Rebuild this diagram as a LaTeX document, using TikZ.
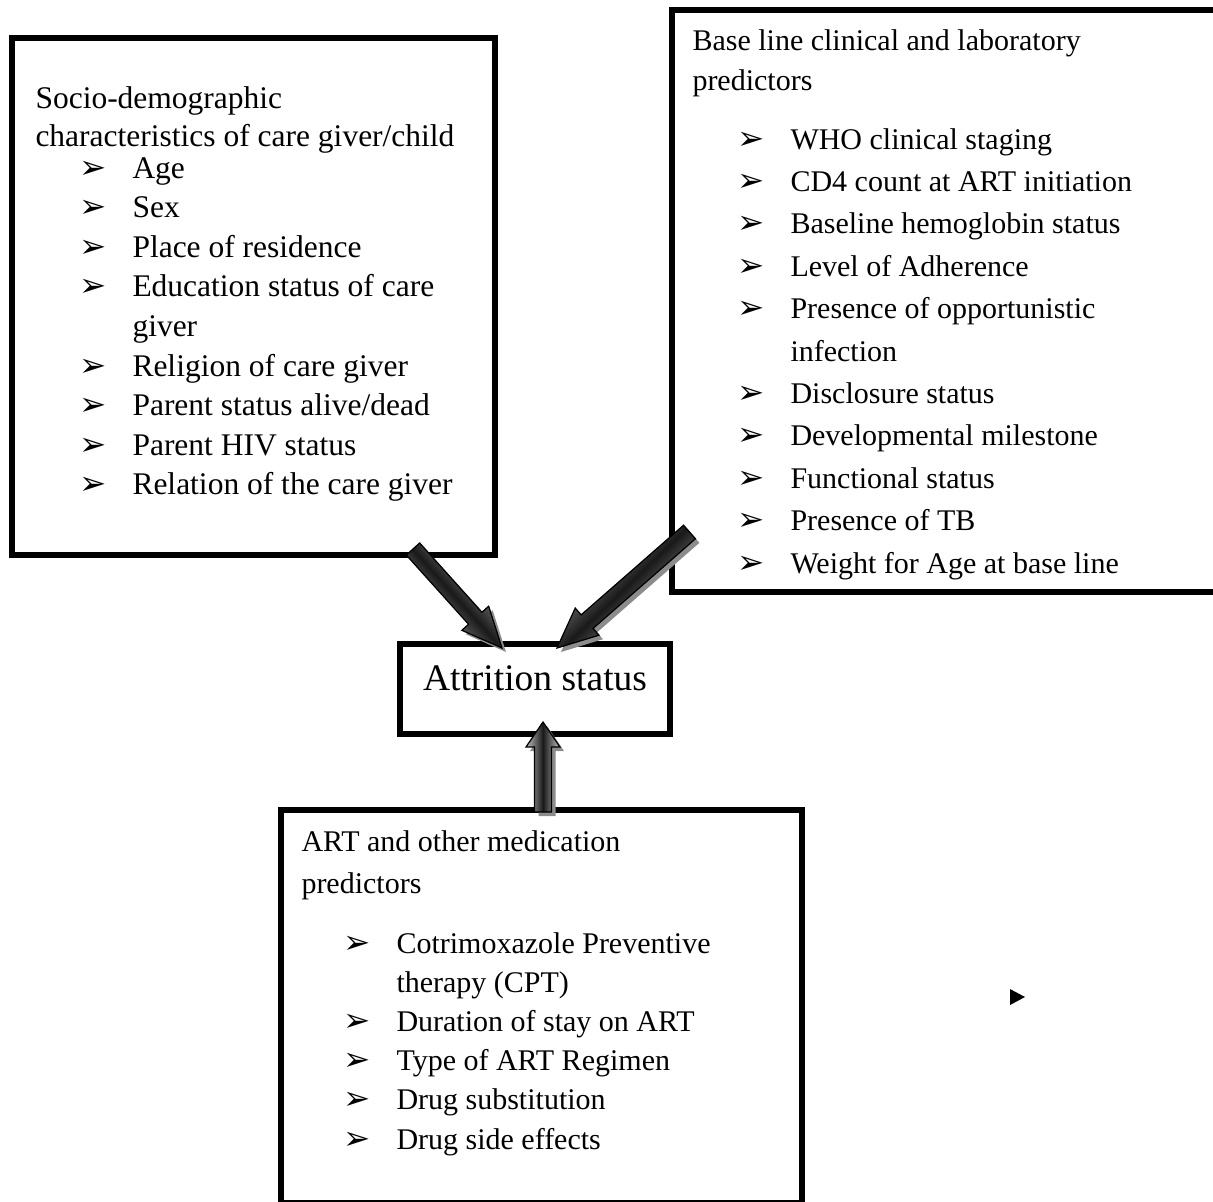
\documentclass[tikz,border=0pt]{standalone}
\usepackage{fontspec}
\setmainfont{Liberation Serif}
\newfontfamily\dingfont{DejaVu Sans}
\usetikzlibrary{calc,shadows}

\newcommand{\arrbullet}{\char"27A2}

% fat shaded arrow: tail, tip, shaft half width, head half width, head length, angle
\newcommand{\fatarrow}[6]{%
  \coordinate (hb) at ($(#2)!#5!(#1)$);
  \draw[thickarrow, shading angle=#6]
    ($(#1)!#3!90:(#2)$) -- ($(hb)!#3!90:(#2)$) -- ($(hb)!#4!90:(#2)$)
    -- (#2) -- ($(hb)!#4!-90:(#2)$) -- ($(hb)!#3!-90:(#2)$)
    -- ($(#1)!#3!-90:(#2)$) -- cycle;
}

\begin{document}
\begin{tikzpicture}[x=0.4pt, y=-0.4pt,
    panel/.style={draw, line width=2.4pt, inner sep=0pt, outer sep=0pt},
    txt/.style={anchor=base west, inner sep=0pt, font=\fontsize{12}{14}\selectfont},
    bigtxt/.style={txt, font=\fontsize{12.6}{14}\selectfont},
    bulletmark/.style={anchor=base east, inner sep=0pt, font=\dingfont\fontsize{13}{13}\selectfont},
    thickarrow/.style={draw=black, line width=0.5pt,
        top color=black!25, bottom color=black!25, middle color=black!90,
        drop shadow={shadow xshift=1.6pt, shadow yshift=-1.6pt, fill=black!45, opacity=1}}
]
    \useasboundingbox (0,0) rectangle (1213,1201);

    % boxes
    \node[panel, minimum width=193pt, minimum height=206.6pt] (socio) at (253.25,296.25) {};
    \node[panel, minimum width=218.2pt, minimum height=232.8pt] (clin) at (944.25,301) {};
    \node[panel, minimum width=108pt, minimum height=36pt] (attr) at (535,688.5) {};
    \node[panel, minimum width=208.2pt, minimum height=157.2pt] (med) at (541.75,1006.5) {};

    \node[anchor=base, inner sep=0pt, font=\fontsize{15}{18}\selectfont] (attrtext) at (535,690) {Attrition status};

    % socio-demographic box
    \foreach \y/\t [count=\i] in {108/Socio-demographic, 146/characteristics of care giver\slash child}
        \node[bigtxt] (soct\i) at (35,\y) {\t};
    \foreach \y/\t [count=\i] in {178/Age, 217.6/Sex, 257.2/Place of residence,
            296.8/Education status of care, 336.4/giver, 376/Religion of care giver,
            415.6/Parent status alive\slash dead, 455.2/Parent HIV status,
            494.8/Relation of the care giver}
        \node[bigtxt] (soci\i) at (132,\y) {\t};
    \foreach \y [count=\i] in {178, 217.6, 257.2, 296.8, 376, 415.6, 455.2, 494.8}
        \node[bulletmark] (socb\i) at (107,\y) {\arrbullet};

    % clinical box
    \foreach \y/\t [count=\i] in {50/Base line clinical and laboratory, 90/predictors}
        \node[txt] (clint\i) at (692,\y) {\t};
    \foreach \y/\t [count=\i] in {149/WHO clinical staging, 191.4/CD4 count at ART initiation,
            233.8/Baseline hemoglobin status, 276.2/Level of Adherence,
            318.6/Presence of opportunistic, 361/infection, 403.4/Disclosure status,
            445.8/Developmental milestone, 488.2/Functional status,
            530.6/Presence of TB, 573/Weight for Age at base line}
        \node[txt] (clini\i) at (790,\y) {\t};
    \foreach \y [count=\i] in {149, 191.4, 233.8, 276.2, 318.6, 403.4, 445.8, 488.2, 530.6, 573}
        \node[bulletmark] (clinb\i) at (765,\y) {\arrbullet};

    % medication box
    \foreach \y/\t [count=\i] in {851/ART and other medication, 893/predictors}
        \node[txt] (medt\i) at (301,\y) {\t};
    \foreach \y/\t [count=\i] in {953/Cotrimoxazole Preventive, 992.2/therapy (CPT),
            1031.4/Duration of stay on ART, 1070.6/Type of ART Regimen,
            1109.8/Drug substitution, 1149/Drug side effects}
        \node[txt] (medi\i) at (396,\y) {\t};
    \foreach \y [count=\i] in {953, 1031.4, 1070.6, 1109.8, 1149}
        \node[bulletmark] (medb\i) at (371,\y) {\arrbullet};

    % arrows
    \coordinate (sociotail) at ($(socio.south east)+(-81.5,-5.5)$);
    \coordinate (sociotip) at ($(attr.north)+(-33,4.5)$);
    \coordinate (clintail) at ($(clin.south west)+(18,-60)$);
    \coordinate (clintip) at ($(attr.north)+(22,4.5)$);
    \coordinate (medtail) at ($(med.north)+(1.25,2)$);
    \coordinate (medtip) at ($(attr.south)+(8,-11.5)$);
    \fatarrow{sociotail}{sociotip}{3.6pt}{7.2pt}{16pt}{-48}
    \fatarrow{clintail}{clintip}{3.6pt}{7.2pt}{16pt}{44}
    \fatarrow{medtail}{medtip}{3.4pt}{6.8pt}{10pt}{90}

    \fill (1010,989) -- (1025,997) -- (1010,1005) -- cycle;
\end{tikzpicture}
\end{document}
